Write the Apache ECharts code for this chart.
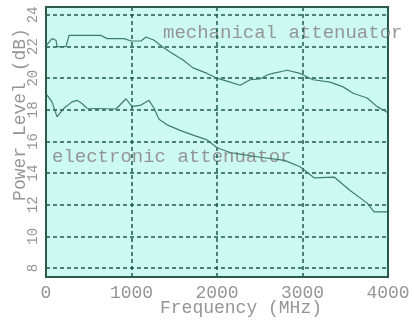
<!DOCTYPE html>
<html>
<head>
<meta charset="utf-8">
<script src="https://cdn.jsdelivr.net/npm/echarts@6/dist/echarts.min.js"></script>
<style>
  html, body { margin: 0; padding: 0; background: #fff; }
  #main { width: 414px; height: 322px; }
</style>
</head>
<body>
<div id="main"></div>
<script>
// data
var yTicks = [8, 10, 12, 14, 16, 18, 20, 22, 24];
var xTicks = [0, 1000, 2000, 3000, 4000];

var mechFreq = [10, 70, 117, 129, 234, 269, 644, 714, 913, 995, 1112, 1170, 1264, 1357, 1451, 1603, 1720, 1884, 2000, 2153, 2270, 2387, 2504, 2586, 2656, 2820, 2972, 3124, 3323, 3475, 3592, 3756, 3873, 3990];
var mechLevel = [22.1, 22.5, 22.4, 22.0, 22.0, 22.7, 22.7, 22.5, 22.5, 22.35, 22.35, 22.6, 22.4, 22.0, 21.65, 21.15, 20.65, 20.3, 20.0, 19.75, 19.55, 19.9, 19.95, 20.2, 20.3, 20.5, 20.3, 19.9, 19.75, 19.45, 19.05, 18.75, 18.2, 17.85];

var elecFreq = [10, 70, 129, 211, 304, 363, 421, 480, 819, 936, 1006, 1112, 1205, 1264, 1322, 1416, 1568, 1720, 1884, 2000, 2153, 2270, 2504, 2790, 2972, 3135, 3370, 3557, 3756, 3838, 3990];
var elecLevel = [18.95, 18.5, 17.55, 18.1, 18.5, 18.6, 18.4, 18.1, 18.05, 18.7, 18.2, 18.3, 18.6, 18.1, 17.4, 17.05, 16.7, 16.4, 16.1, 15.6, 15.3, 15.2, 15.0, 14.8, 14.4, 13.7, 13.75, 12.9, 12.1, 11.55, 11.55];

function pairs(xs, ys) {
    var out = [];
    for (var i = 0; i < xs.length; i++) out.push([xs[i], ys[i]]);
    return out;
}

var chart = echarts.init(document.getElementById('main'));

var mono = 'Liberation Mono';
var textGray = '#959595';
var gridColor = '#1e5a48';
var lineColor = '#3f7c6a';

var option = {
    animation: false,
    backgroundColor: '#ffffff',
    grid: {
        left: 46,
        right: 26,
        top: 7,
        bottom: 45,
        containLabel: false,
        outerBoundsMode: 'none',
        show: true,
        backgroundColor: '#ccfaf2',
        borderColor: '#2c5a4c',
        borderWidth: 2
    },
    xAxis: {
        type: 'value',
        min: 0,
        max: 4000,
        interval: 1000,
        name: 'Frequency (MHz)',
        nameLocation: 'middle',
        nameGap: 22,
        nameMoveOverlap: false,
        nameTextStyle: { fontFamily: mono, fontSize: 18, color: textGray, padding: [0, 0, 0, 48] },
        axisLine: { show: true, lineStyle: { color: '#2c5a4c', width: 2 } },
        axisTick: { show: false },
        axisLabel: {
            fontFamily: mono, fontSize: 18, color: textGray, margin: 7, showMaxLabel: true,
            customValues: xTicks,
            formatter: function (v) { return String(v); }
        },
        splitLine: { show: true, lineStyle: { color: gridColor, type: [4, 3], width: 1.5 } }
    },
    yAxis: {
        type: 'value',
        min: 7.43,
        max: 24.5,
        name: 'Power Level (dB)',
        nameLocation: 'middle',
        nameGap: 17,
        nameMoveOverlap: false,
        nameRotate: 90,
        nameTextStyle: { fontFamily: mono, fontSize: 18, color: textGray, padding: [0, 0, 0, 55] },
        axisLine: { show: true, lineStyle: { color: '#2c5a4c', width: 2 } },
        axisTick: { show: false, customValues: yTicks },
        axisLabel: { fontFamily: mono, fontSize: 14, color: textGray, rotate: 90, margin: 6, customValues: yTicks },
        splitLine: { show: true, lineStyle: { color: gridColor, type: [4, 3], width: 1.5 } }
    },
    graphic: [
        {
            type: 'text', left: 163, top: 23,
            style: { text: 'mechanical attenuator', font: '19px "Liberation Mono"', fill: textGray }
        },
        {
            type: 'text', left: 52, top: 147,
            style: { text: 'electronic attenuator', font: '19px "Liberation Mono"', fill: textGray }
        }
    ],
    series: [{
        name: 'mechanical attenuator',
        type: 'line',
        showSymbol: false,
        lineStyle: { color: lineColor, width: 1.2 },
        data: pairs(mechFreq, mechLevel)
    }, {
        name: 'electronic attenuator',
        type: 'line',
        showSymbol: false,
        lineStyle: { color: lineColor, width: 1.2 },
        data: pairs(elecFreq, elecLevel)
    }]
};

chart.setOption(option);
</script>
</body>
</html>
